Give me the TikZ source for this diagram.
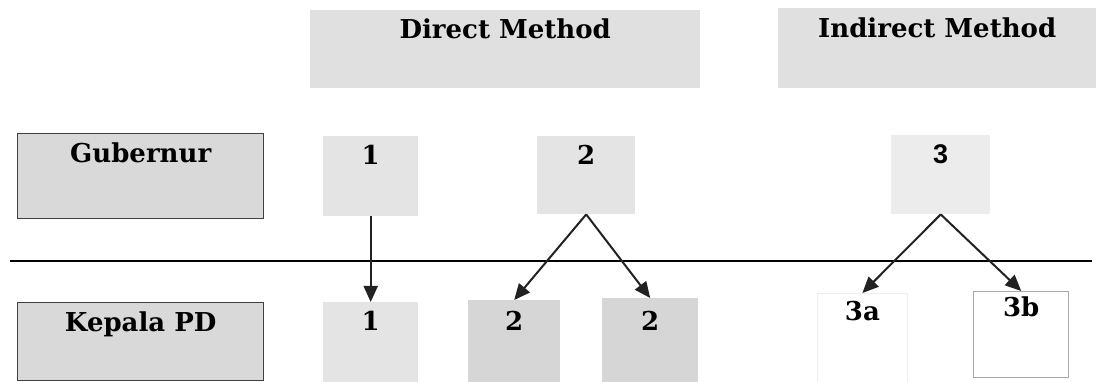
\documentclass[tikz,border=0pt]{standalone}
\usepackage{fontspec}
\setmainfont{DejaVu Serif}
\newfontfamily\numsans{Liberation Sans}
\usetikzlibrary{arrows.meta}
\definecolor{hdrgray}{HTML}{E0E0E0}
\definecolor{rolegray}{HTML}{D9D9D9}
\definecolor{cellgray}{HTML}{E4E4E4}
\definecolor{lightcell}{HTML}{ECECEC}
\definecolor{darkcell}{HTML}{D6D6D6}
\definecolor{edgegray}{HTML}{A8A8A8}
\definecolor{faintedge}{HTML}{EEEEEE}
\definecolor{linkgray}{HTML}{222222}
\tikzset{
  cell/.style={rectangle, inner sep=0pt, anchor=north west, font=\fontsize{26}{26}\selectfont\bfseries},
  rolebox/.style={cell, fill=rolegray, draw=black!75, line width=1.4pt},
  link/.style={draw=linkgray, line width=2pt, -{Triangle[length=16pt,width=14pt]}},
  bar/.style={draw=black, line width=1.8pt}
}
\begin{document}
\begin{tikzpicture}[x=1pt,y=-1pt]
\useasboundingbox (0,0) rectangle (1104,382);
\fill[white] (0,0) rectangle (1104,382);
% headers
\node[cell, fill=hdrgray, minimum width=390pt, text height=28pt, text depth=50pt] (direct) at (310,10) {Direct Method};
\node[cell, fill=hdrgray, minimum width=318pt, text height=29pt, text depth=51pt] (indirect) at (778,8) {Indirect Method};
% role boxes
\node[rolebox, minimum width=246pt, text height=29pt, text depth=56pt] (gub) at (17,133) {Gubernur};
\node[rolebox, minimum width=246pt, text height=29pt, text depth=49pt] (kep) at (17,302) {Kepala PD};
% top row
\node[cell, fill=cellgray, minimum width=95pt, text height=28pt, text depth=52pt] (t1) at (323,136) {1};
\node[cell, fill=cellgray, minimum width=98pt, text height=28pt, text depth=50pt] (t2) at (537,136) {2};
\node[cell, fill=lightcell, minimum width=99pt, text height=28pt, text depth=51pt, font=\fontsize{27}{27}\selectfont\numsans\bfseries] (t3) at (891,135) {3};
% bottom row
\node[cell, fill=cellgray, minimum width=95pt, text height=28pt, text depth=52pt] (b1) at (323,302) {1};
\node[cell, fill=darkcell, minimum width=92pt, text height=30pt, text depth=52pt] (b2a) at (468,300) {2};
\node[cell, fill=darkcell, minimum width=96pt, text height=32pt, text depth=52pt] (b2b) at (602,298) {2};
\node[cell, fill=white, draw=faintedge, line width=0.8pt, minimum width=90pt, text height=27pt, text depth=62pt] (b3a) at (817,293) {3a};
\node[cell, fill=white, draw=edgegray, line width=1.4pt, minimum width=95pt, text height=25pt, text depth=61pt] (b3b) at (973,291) {3b};
% divider
\coordinate (divL) at (10,261);
\coordinate (divR) at (1092,261);
\draw[bar] (divL) -- (divR);
% connectors
\draw[link] (t1.south) -- (b1.north);
\draw[link] (t2.south) -- (b2a.north);
\draw[link] (t2.south) -- (b2b.north);
\draw[link] (t3.south) -- (b3a.north);
\draw[link] (t3.south) -- (b3b.north);
\end{tikzpicture}
\end{document}
